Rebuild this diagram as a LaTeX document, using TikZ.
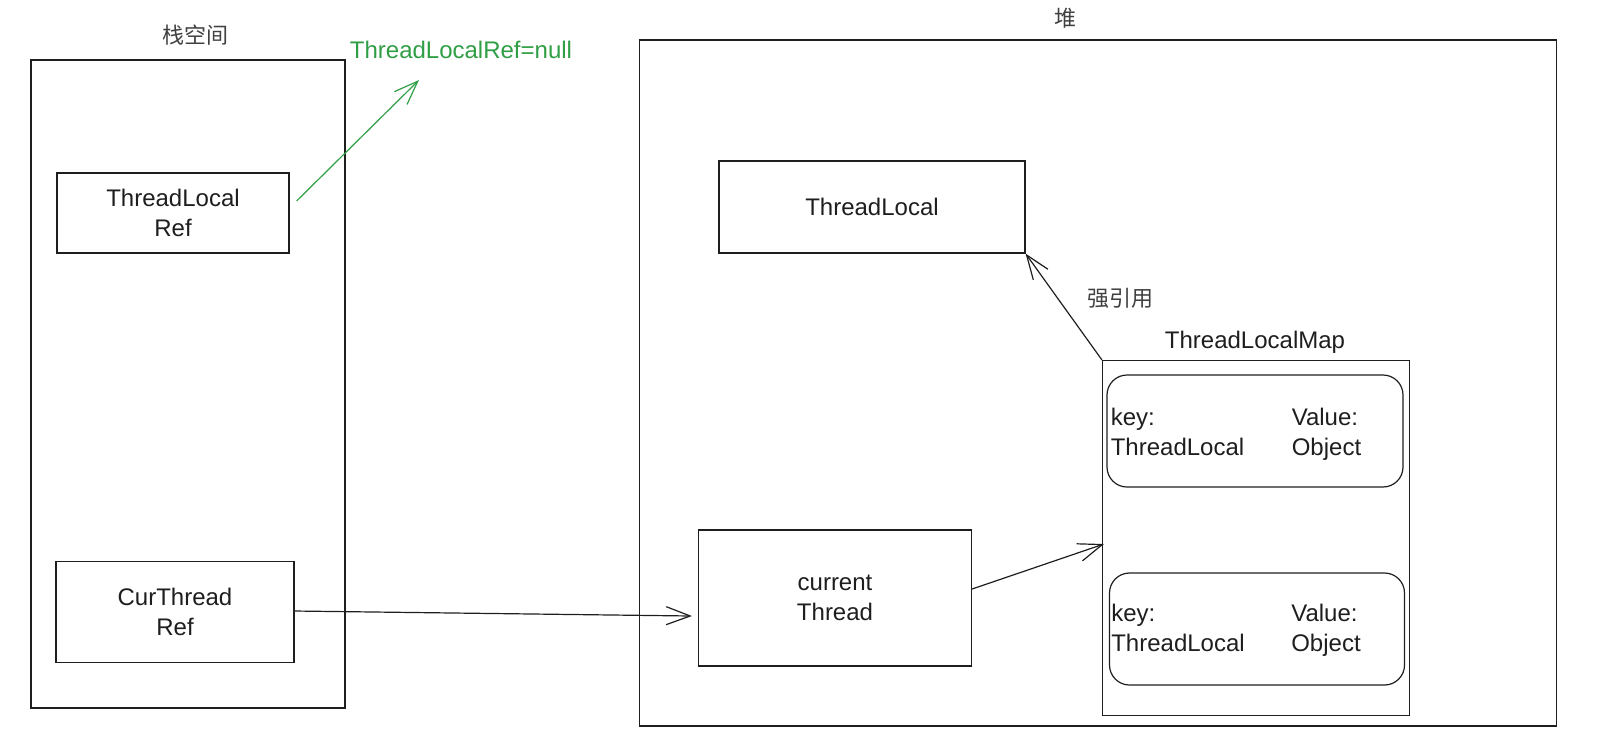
\documentclass[tikz,border=0pt]{standalone}
\usepackage{fontspec}
\setmainfont{Liberation Sans}
\newfontfamily\cjk{Noto Sans CJK SC}
\usetikzlibrary{arrows.meta}
\definecolor{ink}{HTML}{1E1E1E}
\definecolor{refgreen}{HTML}{2F9E44}

\begin{document}
\begin{tikzpicture}[x=0.5pt,y=-0.5pt,
	box/.style={draw=ink,line width=0.6pt,rectangle,align=center,text=ink,
		font=\fontsize{12}{15}\selectfont},
	entrybox/.style={box,rounded corners=10pt},
	title/.style={text=ink!85,font=\cjk\fontsize{11}{13}\selectfont},
	txt/.style={text=ink,align=left,inner sep=0pt,font=\fontsize{12}{15}\selectfont},
	link/.style={draw=ink,line width=0.6pt,-{Straight Barb[length=12pt,width=9pt]}}]
			\useasboundingbox (0,0) rectangle (1610,752);
			\node[box,minimum width=157pt,minimum height=324pt] (stack) at (188,384) {};
			\node[title] (stacktitle) at (195,35) {栈空间};
			\node[box,minimum width=116pt,minimum height=40pt] (tlref) at (173,213) {ThreadLocal\\Ref};
			\node[box,minimum width=119pt,minimum height=50.5pt] (curref) at (175,612) {CurThread\\Ref};
			\node[text=refgreen,font=\fontsize{12}{15}\selectfont] (nullref) at (461,50) {ThreadLocalRef=null};
			\coordinate (nullend) at (419,80);
			\node[box,minimum width=458.5pt,minimum height=343pt] (heap) at (1098,383) {};
			\node[title] (heaptitle) at (1065,18) {堆};
			\node[box,minimum width=153pt,minimum height=46pt] (tl) at (872,207) {ThreadLocal};
			\node[box,minimum width=136.5pt,minimum height=68pt] (cur) at (835,598) {current\\Thread};
			\node[box,minimum width=153.5pt,minimum height=177.5pt] (map) at (1256,538) {};
			\node[txt] (maptitle) at (1255,342) {ThreadLocalMap};
			\node[title] (strong) at (1120,298) {强引用};
			\node[entrybox,minimum width=148pt,minimum height=56pt] (entry1) at (1255,431) {};
			\node[txt,anchor=base west] (key1) at ([xshift=2pt,yshift=-12pt]entry1.west) {key:\\ThreadLocal};
			\node[txt,anchor=base west] (val1) at ([xshift=92.5pt,yshift=-12pt]entry1.west) {Value:\\Object};
			\node[entrybox,minimum width=147.5pt,minimum height=56pt] (entry2) at (1257,629) {};
			\node[txt,anchor=base west] (key2) at ([xshift=1pt,yshift=-11pt]entry2.west) {key:\\ThreadLocal};
			\node[txt,anchor=base west] (val2) at ([xshift=91pt,yshift=-11pt]entry2.west) {Value:\\Object};
			\draw[link,draw=refgreen] ([xshift=3.5pt,yshift=6pt]tlref.east) -- (nullend);
			\draw[link] ([yshift=0.5pt]curref.east) -- ([xshift=-3pt,yshift=-9pt]cur.west);
			\draw[link] ([yshift=4.5pt]cur.east) -- ([xshift=1pt,yshift=-3pt]map.west);
			\draw[link] (map.north west) -- (tl.south east);
			\end{tikzpicture}
\end{document}
